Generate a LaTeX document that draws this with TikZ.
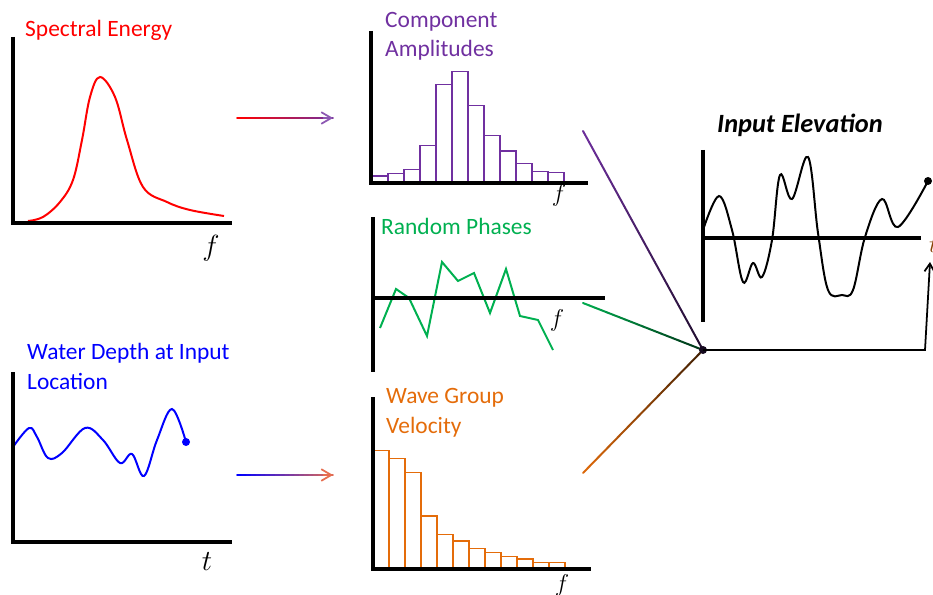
\documentclass[tikz,border=0pt]{standalone}
\usepackage{fontspec}
\setmainfont{Carlito}
\usepackage{amsmath}
\usetikzlibrary{calc,arrows.meta}
\definecolor{specred}{RGB}{255,0,0}
\definecolor{amppurple}{RGB}{112,48,160}
\definecolor{phasegreen}{RGB}{0,176,80}
\definecolor{velorange}{RGB}{228,108,10}
\definecolor{depthblue}{RGB}{0,0,255}
\definecolor{arrowcoral}{RGB}{230,110,80}

\begin{document}
\begin{tikzpicture}[x=0.03cm, y=-0.03cm,
      axisline/.style={line width=2.6pt},
      wavecurve/.style={line width=1.7pt, smooth, tension=0.6},
      histbar/.style={line width=1.1pt},
      title/.style={anchor=base west, inner sep=0pt, align=left, font=\fontsize{20}{25.5}\selectfont},
      axlabel/.style={inner sep=0pt, font=\fontsize{20}{24}\selectfont},
      flow/.style={line width=1.5pt, line cap=round},
      tip/.style={-{Straight Barb[length=3mm, width=3.5mm]}},
      hubline/.style={line width=1.7pt, line cap=round}]
    \useasboundingbox (0,0) rectangle (933,595);

    % spectral energy
    \node[title, text=specred] (spectitle) at (25,37) {Spectral Energy};
    \draw[wavecurve, specred] plot coordinates {(28,221) (43,217) (60,202) (73,180) (82,140) (90,97) (100,77) (115,97) (127,140) (143,187) (167,202) (190,210) (224,216)};
    \draw[axisline] (13,37) |- (232,223);
    \node[axlabel, font=\fontsize{26}{30}\selectfont] (specf) at (211,248) {$f$};

    % water depth (base = last line)
    \node[title, text=depthblue] (depthtitle) at (27,389) {Water Depth at Input\\Location};
    \draw[wavecurve, depthblue] plot coordinates {(13,447) (29,428) (37,437) (48,458) (62,453) (85,428) (103,440) (120,463) (132,454) (144,476) (157,440) (172,409) (186,442)};
    \fill[depthblue] (186,442) circle (4);
    \draw[axisline] (13,372) |- (232,542);
    \node[axlabel, font=\fontsize{24}{28}\selectfont] (deptht) at (207,562) {$t$};

    % component amplitudes
    \node[title, text=amppurple] (amptitle) at (385,57) {Component\\Amplitudes};
    \foreach \h [count=\k] in {176,173.7,169.3,145.3,84.3,71.7,105.7,135.3,151,163.3,171.3,172.3}
      \draw[histbar, amppurple] ({372+16*(\k-1)},183) rectangle ++(16,{\h-183});
    \draw[axisline] (371,31) |- (588,183);
    \node[axlabel] (ampf) at (559,195) {$f$};

    % random phases
    \node[title, text=phasegreen] (phasetitle) at (381,234) {Random Phases};
    \draw[line width=1.7pt, phasegreen] (380,328) -- (396,289) -- (409,298) -- (427,336) -- (442,262) -- (458,281) -- (474,273) -- (490,313) -- (506,269) -- (520,316) -- (538,320) -- (553,350);
    \draw[axisline] (373,217) -- (373,372);
    \draw[axisline] (373,298) -- (605,298);
    \node[axlabel] (phasef) at (557,320) {$f$};

    % wave group velocity
    \node[title, text=velorange] (veltitle) at (386,433) {Wave Group\\Velocity};
    \foreach \h [count=\k] in {450.7,458.7,472.3,516,534.3,541,548.7,552.3,556.7,559,562.3,562.3}
      \draw[histbar, velorange] ({373+16*(\k-1)},569) rectangle ++(16,{\h-569});
    \draw[axisline] (373,397) |- (591,569);
    \node[axlabel] (velf) at (562,585) {$f$};

    % input elevation
    \node[title, font=\fontsize{22.5}{27}\selectfont\bfseries\itshape] (elevtitle) at (717,133) {Input Elevation};
    \draw[wavecurve] plot coordinates {(703,230) (719,196) (732,230) (743,282) (753,263) (762,277) (772,240) (780,175) (792,199) (808,157) (818,233) (828,290) (842,295) (853,290) (865,237) (882,199) (898,227) (928,181)};
    \fill (928,181) circle (4);
    \draw[axisline] (703,150) -- (703,322);
    \draw[axisline] (703,238) -- (921,238);
    \node[axlabel, anchor=west, text=velorange!60!black] (elevt) at (929,245) {$t$};

    % connectors
    \coordinate (specout) at (237,118);
    \coordinate (ampin) at (333,118);
    \coordinate (depthout) at (237,475);
    \coordinate (velin) at (333,475);
    \coordinate (ampout) at (583,131);
    \coordinate (phaseout) at (583,303);
    \coordinate (velout) at (583,473);
    \coordinate (hub) at (703,350);
    \coordinate (elevcorner) at (925,350);
    \coordinate (elevin) at (930,262);

    \foreach \i [evaluate=\i as \s using \i/20, evaluate=\i as \e using (\i+1)/20, evaluate=\i as \m using int(5*\i)] in {0,...,19} {
      \draw[flow, draw=amppurple!\m!specred] ($(specout)!\s!(ampin)$) -- ($(specout)!\e!(ampin)$);
      \draw[flow, draw=arrowcoral!\m!depthblue] ($(depthout)!\s!(velin)$) -- ($(depthout)!\e!(velin)$);
    }
    \draw[flow, tip, draw=amppurple!80!white] ($(specout)!0.9!(ampin)$) -- (ampin);
    \draw[flow, tip, draw=arrowcoral] ($(depthout)!0.9!(velin)$) -- (velin);

    \foreach \i [evaluate=\i as \s using \i/20, evaluate=\i as \e using (\i+1)/20, evaluate=\i as \m using int(30+3.5*\i)] in {0,...,19} {
      \draw[hubline, draw=amppurple!\m!black] ($(hub)!\s!(ampout)$) -- ($(hub)!\e!(ampout)$);
      \draw[hubline, draw=phasegreen!\m!black] ($(hub)!\s!(phaseout)$) -- ($(hub)!\e!(phaseout)$);
      \draw[hubline, draw=velorange!\m!black] ($(hub)!\s!(velout)$) -- ($(hub)!\e!(velout)$);
    }
    \fill[amppurple!20!black] (hub) circle (4);
    \draw[line width=1.5pt, -{Straight Barb[length=2.4mm, width=3mm]}] (hub) -- (elevcorner) -- (elevin);
  \end{tikzpicture}
\end{document}
